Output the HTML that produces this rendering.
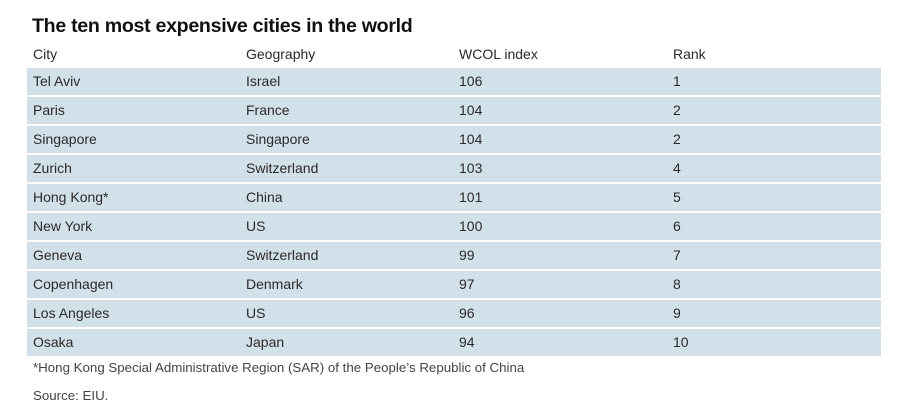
<!DOCTYPE html>
<html><head><style>
body{margin:0;width:924px;height:419px;background:#fff;font-family:"Liberation Sans",sans-serif;color:#2a2a2a;position:relative;overflow:hidden}
.t{position:absolute;left:32px;top:15px;font-size:19.6px;font-weight:bold;color:#111;letter-spacing:-0.3px}
.r{position:absolute;left:27px;width:854px;height:27px;font-size:14px;line-height:27px}
.b{background:#d2e0ea}
.r span{position:absolute;top:0}
.c1{left:6px}.c2{left:219px}.c3{left:432px}.c4{left:646px}
.f{position:absolute;left:33px;font-size:13.3px;color:#444}
</style></head><body>
<div class="t">The ten most expensive cities in the world</div>
<div class="r" style="top:41px"><span class="c1">City</span><span class="c2">Geography</span><span class="c3">WCOL index</span><span class="c4">Rank</span></div>
<div class="r b" style="top:68px"><span class="c1">Tel Aviv</span><span class="c2">Israel</span><span class="c3">106</span><span class="c4">1</span></div>
<div class="r b" style="top:97px"><span class="c1">Paris</span><span class="c2">France</span><span class="c3">104</span><span class="c4">2</span></div>
<div class="r b" style="top:126px"><span class="c1">Singapore</span><span class="c2">Singapore</span><span class="c3">104</span><span class="c4">2</span></div>
<div class="r b" style="top:155px"><span class="c1">Zurich</span><span class="c2">Switzerland</span><span class="c3">103</span><span class="c4">4</span></div>
<div class="r b" style="top:184px"><span class="c1">Hong Kong*</span><span class="c2">China</span><span class="c3">101</span><span class="c4">5</span></div>
<div class="r b" style="top:213px"><span class="c1">New York</span><span class="c2">US</span><span class="c3">100</span><span class="c4">6</span></div>
<div class="r b" style="top:242px"><span class="c1">Geneva</span><span class="c2">Switzerland</span><span class="c3">99</span><span class="c4">7</span></div>
<div class="r b" style="top:271px"><span class="c1">Copenhagen</span><span class="c2">Denmark</span><span class="c3">97</span><span class="c4">8</span></div>
<div class="r b" style="top:300px"><span class="c1">Los Angeles</span><span class="c2">US</span><span class="c3">96</span><span class="c4">9</span></div>
<div class="r b" style="top:329px"><span class="c1">Osaka</span><span class="c2">Japan</span><span class="c3">94</span><span class="c4">10</span></div>
<div class="f" style="top:360px">*Hong Kong Special Administrative Region (SAR) of the People’s Republic of China</div>
<div class="f" style="top:388px">Source: EIU.</div>
</body></html>
